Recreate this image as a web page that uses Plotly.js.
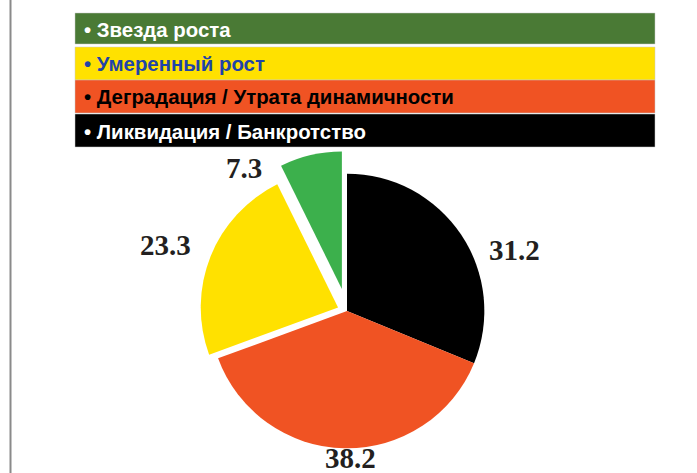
<!DOCTYPE html>
<html>
<head>
<meta charset="utf-8">
<script src="https://cdn.plot.ly/plotly-3.0.1.min.js"></script>
<style>
  html, body { margin: 0; padding: 0; background: #ffffff; }
  #chart { width: 697px; height: 473px; }
</style>
</head>
<body>
<div id="chart"></div>
<script>
// Categories in legend order (top to bottom)
const categories = ['Звезда роста', 'Умеренный рост', 'Деградация / Утрата динамичности', 'Ликвидация / Банкротство'];
// Shares, %
const values = [7.3, 23.3, 38.2, 31.2];
// Slice colours
const sliceColors = ['#3cb04c', '#ffe100', '#f05323', '#000000'];
// Legend bar colours and text colours
const barColors = ['#4a7a35', '#ffe100', '#f05323', '#000000'];
const barTextColors = ['#ffffff', '#1f44a8', '#000000', '#ffffff'];
// Pull-out of slices
const pulls = [0.165, 0.07, 0, 0];

const W = 697, H = 473;
const px = v => v / W;
const py = v => 1 - v / H;

// Pie drawn clockwise from 12 o'clock starting with the last category
const rev = a => a.slice().reverse();
const trace = {
  type: 'pie',
  labels: rev(categories),
  values: rev(values),
  sort: false,
  direction: 'clockwise',
  rotation: 0,
  pull: rev(pulls),
  marker: { colors: rev(sliceColors), line: { width: 0 } },
  textinfo: 'none',
  textposition: 'none',
  showlegend: false,
  hoverinfo: 'label+value',
  automargin: false,
  domain: { x: [px(182), px(512)], y: [py(471), py(151)] }
};

// Legend bars (top/bottom in pixels)
const barTops = [13, 47, 80, 114];
const barBottoms = [44, 80, 113, 147];
// Value label centres (pixels) for each category
const labelX = [244, 165, 350, 514];
const labelY = [168, 245, 458, 250];

const shapes = [
  { type: 'line', xref: 'paper', yref: 'paper', x0: px(10.5), x1: px(10.5), y0: 0, y1: 1, line: { color: '#8a8a8a', width: 2 } }
];
const annotations = [];
categories.forEach((c, i) => {
  shapes.push({
    type: 'rect', xref: 'paper', yref: 'paper',
    x0: px(75), x1: px(655), y0: py(barBottoms[i]), y1: py(barTops[i]),
    fillcolor: barColors[i], line: { color: '#c8c8c8', width: 0.5 }, layer: 'below'
  });
  annotations.push({
    xref: 'paper', yref: 'paper', x: px(82), y: py((barTops[i] + barBottoms[i]) / 2),
    xanchor: 'left', yanchor: 'middle', showarrow: false, yshift: -1,
    text: '• ' + c,
    font: { family: 'Liberation Sans, Arial, sans-serif', size: 20.4, color: barTextColors[i], weight: 'bold' }
  });
});
values.forEach((v, i) => {
  annotations.push({
    xref: 'paper', yref: 'paper', x: px(labelX[i]), y: py(labelY[i]),
    xanchor: 'center', yanchor: 'middle', showarrow: false,
    text: v.toFixed(1),
    font: { family: 'Liberation Serif, Times New Roman, serif', size: 29, color: '#231f20', weight: 'bold' }
  });
});

const layout = {
  width: W, height: H,
  margin: { l: 0, r: 0, t: 0, b: 0 },
  paper_bgcolor: '#ffffff',
  plot_bgcolor: '#ffffff',
  shapes: shapes,
  annotations: annotations
};

Plotly.newPlot('chart', [trace], layout, { displayModeBar: false, staticPlot: true });
</script>
</body>
</html>
